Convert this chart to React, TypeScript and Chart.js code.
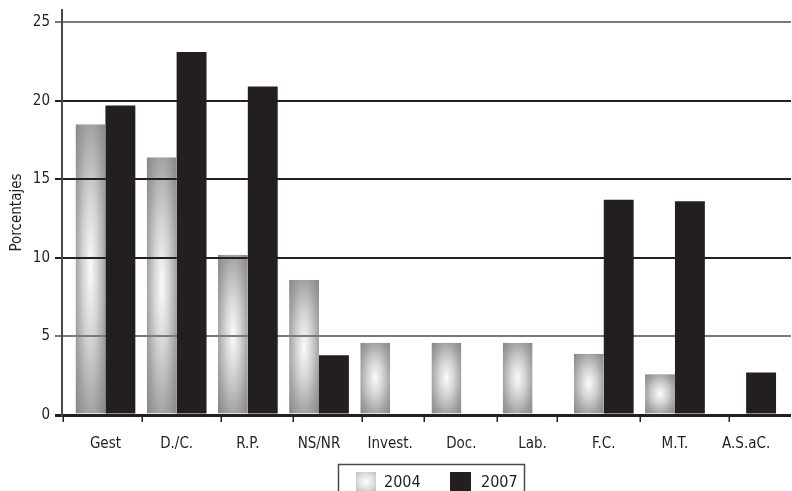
import React, { useEffect, useRef } from "react";
import { Chart, registerables } from "chart.js";

Chart.register(...registerables);

// Areas of activity and the share (%) reported in each survey year
const categories = ["Gest", "D./C.", "R.P.", "NS/NR", "Invest.", "Doc.", "Lab.", "F.C.", "M.T.", "A.S.aC."];
const values2004: (number | null)[] = [18.5, 16.4, 10.2, 8.6, 4.6, 4.6, 4.6, 3.9, 2.6, null];
const values2007: (number | null)[] = [19.7, 23.1, 20.9, 3.8, null, null, null, 13.7, 13.6, 2.7];
const seriesNames = ["2004", "2007"];
const yTicks = [0, 5, 10, 15, 20, 25];
// Short marks under the baseline separating the category groups (axis units)
const categoryDividers = [-0.6, 0.51, 1.62, 2.63, 3.6, 4.47, 5.5, 6.35, 7.51, 8.76];

const FONT = '"Liberation Sans Narrow", "DejaVu Sans Condensed", sans-serif';
const INK = "#231f20";
const DARK_BAR = "#231f20";
const LIGHT_RULE = "#7a7a7a";

const gridColor = (v: number) => (v === 5 || v === 25 ? LIGHT_RULE : INK);

// Elliptical radial shading used for the 2004 bars
function fillShaded(
  ctx: CanvasRenderingContext2D,
  left: number,
  top: number,
  w: number,
  h: number,
  stops: [number, string][]
) {
  ctx.save();
  ctx.beginPath();
  ctx.rect(left, top, w, h);
  ctx.clip();
  ctx.translate(left + w / 2, top + h / 2);
  ctx.scale(w / 2, h / 2);
  const g = ctx.createRadialGradient(0, 0, 0, 0, 0, Math.SQRT2);
  stops.forEach(([o, c]) => g.addColorStop(o, c));
  ctx.fillStyle = g;
  ctx.fillRect(-1, -1, 2, 2);
  ctx.restore();
}

const BAR_STOPS: [number, string][] = [
  [0, "#fbfbfb"],
  [0.35, "#d4d4d6"],
  [0.7, "#a4a4a6"],
  [1, "#858587"],
];
const SWATCH_STOPS: [number, string][] = [
  [0, "#ffffff"],
  [0.6, "#dcdcdc"],
  [1, "#bdbdbd"],
];

// Shades the 2004 bars and lets the horizontal rules show through them
const shadedBars = {
  id: "shadedBars",
  afterDatasetDraw(chart: any, args: any) {
    if (args.index !== 0) return;
    const ctx = chart.ctx as CanvasRenderingContext2D;
    const ys = chart.scales.y;
    args.meta.data.forEach((el: any, i: number) => {
      if (values2004[i] == null) return;
      const { x, y, base, width } = el.getProps(["x", "y", "base", "width"], true);
      const top = Math.min(y, base);
      const h = Math.abs(base - y);
      const left = x - width / 2;
      fillShaded(ctx, left, top, width, h, BAR_STOPS);

      ctx.save();
      ctx.beginPath();
      ctx.rect(left, top, width, h);
      ctx.clip();
      ctx.lineWidth = 2;
      yTicks.forEach((v) => {
        if (v === 0) return;
        const py = Math.round(ys.getPixelForValue(v));
        ctx.strokeStyle = gridColor(v);
        ctx.beginPath();
        ctx.moveTo(left, py);
        ctx.lineTo(left + width, py);
        ctx.stroke();
      });
      ctx.restore();
    });
  },
};

const axisDecor = {
  id: "axisDecor",
  afterDraw(chart: any) {
    const ctx = chart.ctx as CanvasRenderingContext2D;
    const xs = chart.scales.x;
    const bottom = chart.chartArea.bottom;
    ctx.save();
    ctx.strokeStyle = INK;
    ctx.lineWidth = 1.5;
    categoryDividers.forEach((d) => {
      const px = Math.round(xs.getPixelForValue(d)) + 0.25;
      ctx.beginPath();
      ctx.moveTo(px, bottom);
      ctx.lineTo(px, bottom + 7);
      ctx.stroke();
    });

    // Legend box below the axis
    const { left, right } = chart.chartArea;
    const cx = (left + right) / 2 + 4;
    const boxW = 186;
    const boxL = Math.round(cx - boxW / 2) + 0.5;
    const boxT = 464.5;
    ctx.strokeStyle = "#4a4a4a";
    ctx.lineWidth = 1.5;
    ctx.strokeRect(boxL, boxT, boxW, 40);

    fillShaded(ctx, boxL + 17.5, 472, 20, 19, SWATCH_STOPS);
    ctx.fillStyle = DARK_BAR;
    ctx.fillRect(boxL + 111.5, 472, 21, 19);

    ctx.fillStyle = INK;
    ctx.font = `16px ${FONT}`;
    ctx.textBaseline = "alphabetic";
    ctx.textAlign = "left";
    ctx.fillText(seriesNames[0], boxL + 45.5, 487);
    ctx.fillText(seriesNames[1], boxL + 142.5, 487);
    ctx.restore();
  },
};

export default function App() {
  const ref = useRef<HTMLCanvasElement | null>(null);

  useEffect(() => {
    document.body.style.margin = "0";
    const canvas = ref.current;
    if (!canvas) return;

    const chart = new Chart(canvas, {
      type: "bar",
      data: {
        datasets: [
          {
            label: seriesNames[0],
            data: values2004.map((v, i) => ({ x: i, y: v })) as any,
            backgroundColor: "rgba(0,0,0,0)",
            borderWidth: 0,
          },
          {
            label: seriesNames[1],
            data: values2007.map((v, i) => ({ x: i, y: v })) as any,
            backgroundColor: DARK_BAR,
            borderWidth: 0,
          },
        ],
      },
      options: {
        responsive: false,
        animation: false,
        devicePixelRatio: 1,
        layout: { padding: { top: 10, right: 1, left: 0, bottom: 0 } },
        datasets: {
          bar: {
            categoryPercentage: 0.84,
            barPercentage: 1,
          },
        },
        plugins: {
          legend: { display: false },
          tooltip: { enabled: false },
        },
        scales: {
          x: {
            type: "linear",
            offset: false,
            min: -0.61,
            max: 9.63,
            grid: { display: false, drawTicks: false, offset: false },
            border: { display: false },
            afterBuildTicks: (scale: any) => {
              scale.ticks = categories.map((_, i) => ({ value: i }));
            },
            afterFit: (scale: any) => {
              scale.height = 76;
              scale.paddingLeft = 0;
              scale.paddingRight = 0;
            },
            ticks: {
              padding: 20,
              autoSkip: false,
              maxRotation: 0,
              color: INK,
              font: { family: FONT, size: 15 },
              callback: (v: any) => categories[Math.round(Number(v))] ?? "",
            },
          },
          y: {
            type: "linear",
            min: 0,
            max: 25.77,
            afterBuildTicks: (scale: any) => {
              scale.ticks = yTicks.map((v) => ({ value: v }));
            },
            afterFit: (scale: any) => {
              scale.width = 62;
              scale.paddingTop = 0;
              scale.paddingBottom = 0;
            },
            border: { display: true, color: "#4a4a4a", width: 2 },
            grid: {
              drawTicks: true,
              tickLength: 7,
              color: (c: any) => (c.tick ? gridColor(c.tick.value) : INK),
              lineWidth: (c: any) => (c.tick && c.tick.value === 0 ? 3 : 2),
            },
            ticks: {
              padding: 5,
              color: INK,
              font: { family: FONT, size: 15 },
            },
            title: {
              display: true,
              text: "Porcentajes",
              color: INK,
              font: { family: FONT, size: 15 },
              padding: { top: 8, bottom: 0 },
            },
          },
        },
      },
      plugins: [shadedBars, axisDecor],
    });

    return () => chart.destroy();
  }, []);

  return (
    <div style={{ width: 792, height: 491, background: "#ffffff" }}>
      <canvas ref={ref} width={792} height={491} style={{ display: "block" }} />
    </div>
  );
}
